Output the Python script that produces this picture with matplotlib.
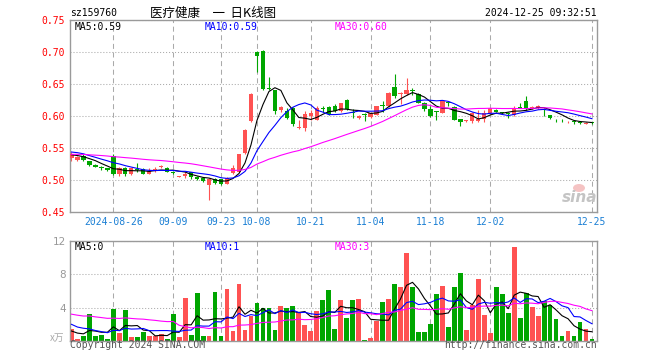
import numpy as np
import pandas as pd
import matplotlib
matplotlib.use("Agg")
import matplotlib.pyplot as plt
from matplotlib.patches import Ellipse

plt.rcParams["font.family"] = ["DejaVu Sans Mono"]
plt.rcParams["lines.scale_dashes"] = False

# trading days, 2024-08-15 .. 2024-12-25 (mid-autumn + national day closed)
HOLIDAYS = ["2024-09-16", "2024-09-17", "2024-10-01", "2024-10-02", "2024-10-03",
            "2024-10-04", "2024-10-07"]
DATES = [d for d in pd.bdate_range("2024-08-15", "2024-12-25")
         if d.strftime("%Y-%m-%d") not in HOLIDAYS]

OPEN = [0.535, 0.531, 0.538, 0.529, 0.524, 0.521, 0.518, 0.538, 0.509, 0.519,
        0.509, 0.517, 0.517, 0.510, 0.515, 0.520, 0.518, 0.513, 0.505, 0.506,
        0.512, 0.505, 0.503, 0.492, 0.502, 0.501, 0.494, 0.511, 0.513, 0.542,
        0.592, 0.700, 0.702, 0.643, 0.640, 0.609, 0.608, 0.613, 0.581, 0.581,
        0.600, 0.594, 0.612, 0.614, 0.616, 0.608, 0.625, 0.607, 0.597, 0.603,
        0.599, 0.602, 0.617, 0.615, 0.646, 0.634, 0.635, 0.640, 0.635, 0.621,
        0.611, 0.607, 0.605, 0.621, 0.614, 0.595, 0.592, 0.592, 0.592, 0.595,
        0.605, 0.610, 0.606, 0.604, 0.602, 0.614, 0.623, 0.613, 0.612, 0.611,
        0.601, 0.594, 0.594, 0.590, 0.592, 0.590, 0.588, 0.590]
HIGH = [0.544, 0.537, 0.540, 0.530, 0.525, 0.522, 0.519, 0.540, 0.520, 0.520,
        0.519, 0.526, 0.518, 0.519, 0.520, 0.524, 0.520, 0.514, 0.507, 0.512,
        0.513, 0.506, 0.505, 0.503, 0.503, 0.502, 0.505, 0.524, 0.541, 0.579,
        0.636, 0.702, 0.703, 0.661, 0.641, 0.616, 0.613, 0.614, 0.593, 0.608,
        0.610, 0.615, 0.615, 0.615, 0.618, 0.621, 0.626, 0.611, 0.601, 0.604,
        0.606, 0.616, 0.623, 0.637, 0.665, 0.637, 0.659, 0.644, 0.636, 0.622,
        0.615, 0.608, 0.624, 0.624, 0.615, 0.596, 0.594, 0.606, 0.610, 0.610,
        0.613, 0.611, 0.607, 0.606, 0.615, 0.621, 0.631, 0.615, 0.617, 0.612,
        0.602, 0.596, 0.595, 0.592, 0.593, 0.591, 0.590, 0.591]
LOW = [0.529, 0.529, 0.530, 0.522, 0.520, 0.516, 0.514, 0.508, 0.507, 0.506,
       0.508, 0.513, 0.509, 0.509, 0.513, 0.519, 0.512, 0.509, 0.504, 0.503,
       0.502, 0.500, 0.497, 0.469, 0.494, 0.492, 0.493, 0.510, 0.512, 0.541,
       0.590, 0.669, 0.640, 0.640, 0.603, 0.606, 0.595, 0.585, 0.580, 0.577,
       0.594, 0.593, 0.606, 0.601, 0.607, 0.606, 0.610, 0.597, 0.596, 0.592,
       0.597, 0.601, 0.607, 0.614, 0.628, 0.618, 0.633, 0.633, 0.620, 0.608,
       0.598, 0.594, 0.604, 0.615, 0.593, 0.584, 0.591, 0.589, 0.590, 0.590,
       0.604, 0.606, 0.603, 0.597, 0.600, 0.612, 0.610, 0.611, 0.611, 0.600,
       0.595, 0.590, 0.590, 0.589, 0.588, 0.587, 0.587, 0.588]
CLOSE = [0.540, 0.536, 0.531, 0.523, 0.521, 0.518, 0.516, 0.510, 0.519, 0.510,
         0.518, 0.515, 0.510, 0.514, 0.517, 0.522, 0.513, 0.511, 0.506, 0.510,
         0.504, 0.501, 0.499, 0.501, 0.496, 0.494, 0.503, 0.518, 0.540, 0.578,
         0.635, 0.694, 0.642, 0.642, 0.608, 0.614, 0.597, 0.587, 0.582, 0.603,
         0.604, 0.613, 0.611, 0.603, 0.608, 0.620, 0.611, 0.604, 0.600, 0.601,
         0.604, 0.615, 0.616, 0.636, 0.631, 0.636, 0.641, 0.639, 0.621, 0.611,
         0.600, 0.606, 0.623, 0.620, 0.594, 0.591, 0.593, 0.604, 0.595, 0.604,
         0.612, 0.607, 0.604, 0.603, 0.612, 0.613, 0.612, 0.614, 0.616, 0.610,
         0.597, 0.593, 0.593, 0.591, 0.591, 0.589, 0.589, 0.589]
# volume, in 万
VOLUME = [1.40, 0.24, 0.56, 3.20, 0.56, 0.68, 0.24, 3.80, 0.92, 3.68,
          0.44, 0.44, 1.08, 0.56, 0.56, 0.80, 0.24, 3.20, 0.44, 5.12,
          0.68, 5.72, 0.56, 0.56, 5.84, 0.56, 6.20, 1.16, 6.80, 1.32,
          2.96, 4.52, 4.00, 4.00, 1.32, 4.16, 4.00, 4.16, 3.48, 1.88,
          1.16, 3.60, 4.88, 6.08, 1.40, 4.88, 2.72, 4.88, 5.00, 0.10,
          0.32, 2.40, 4.64, 5.00, 6.80, 6.44, 10.52, 6.44, 1.04, 1.04,
          2.00, 5.60, 6.56, 1.64, 6.44, 8.12, 1.28, 4.28, 7.40, 3.08,
          0.92, 6.44, 5.60, 3.32, 11.24, 2.72, 5.72, 4.04, 2.96, 4.76,
          4.28, 2.60, 0.56, 1.16, 0.56, 2.24, 1.40, 0.20]

# sessions before the window (off chart), estimated from where the MA lines start
PRE_CLOSE = [0.536, 0.538, 0.540, 0.537, 0.535, 0.539, 0.541, 0.538, 0.536, 0.540,
             0.542, 0.539, 0.537, 0.536, 0.538, 0.540, 0.541, 0.539, 0.537, 0.538,
             0.546, 0.549, 0.551, 0.548, 0.546, 0.542, 0.540, 0.538, 0.537]
PRE_VOLUME = [4.0, 3.5, 3.0, 3.8, 3.2, 3.0, 3.2, 2.0, 1.5, 2.5,
              2.1, 2.0, 3.0, 2.5, 3.5, 2.0, 2.8, 14.0, 10.0, 5.0,
              3.5, 2.0, 4.0, 2.5, 2.0, 1.5, 1.0, 1.2, 0.9]

TICK_DAYS = ["2024-08-26", "2024-09-09", "2024-09-23", "2024-10-08", "2024-10-21",
             "2024-11-04", "2024-11-18", "2024-12-02", "2024-12-25"]
TICK_LABELS = ["2024-08-26", "09-09", "09-23", "10-08", "10-21",
               "11-04", "11-18", "12-02", "12-25"]
PRICE_TICKS = [0.45, 0.50, 0.55, 0.60, 0.65, 0.70, 0.75]
VOL_TICKS = [4, 8, 12]

UP, DOWN = "#ff5252", "#00a600"
GRID = "#aaaaaa"
W, H = 660, 360

day_str = [d.strftime("%Y-%m-%d") for d in DATES]
tick_pos = [day_str.index(d) for d in TICK_DAYS]
x = np.arange(len(CLOSE))
o, h, l, c = map(np.array, (OPEN, HIGH, LOW, CLOSE))
col = np.where(c >= o, UP, DOWN)

k = len(PRE_CLOSE)
close_all = pd.Series(PRE_CLOSE + CLOSE)
vol_all = pd.Series(PRE_VOLUME + VOLUME)
ma_cols = {5: "black", 10: "#0000ff", 30: "#ff00ff"}


def box(left, top, right, bottom):
    return [left / W, 1 - bottom / H, (right - left) / W, (bottom - top) / H]


def ftext(px, py, s, **kw):
    fig.text(px / W, 1 - py / H, s, **kw)


fig = plt.figure(figsize=(6.6, 3.6), dpi=100)
fig.patch.set_facecolor("white")
ax = fig.add_axes(box(70, 20, 597, 212))
axv = fig.add_axes(box(70, 241, 597, 341))

for a in (ax, axv):
    a.set_xlim(-0.25, 87.84)
    for s in a.spines.values():
        s.set_color("#9a9a9a")
        s.set_linewidth(1.0)
    a.tick_params(length=0)
    a.set_xticks(tick_pos)
    a.grid(axis="x", color=GRID, linestyle=(0, (3.6, 2.6)), linewidth=0.75)
    a.grid(axis="y", color=GRID, linestyle=(0, (0.75, 1.4)), linewidth=0.75)
    a.set_axisbelow(True)

# ---- price panel ----
ax.vlines(x, l, h, colors=col, linewidth=0.8, zorder=2)
body_h = np.maximum(np.abs(c - o), 0.0012)
ax.bar(x, body_h, bottom=np.minimum(o, c), width=0.72, color=col, linewidth=0, zorder=3)
for w, cc in ma_cols.items():
    ma = close_all.rolling(w, min_periods=1).mean().values[k:]
    ax.plot(x, ma, color=cc, linewidth=0.8, zorder=4)

ax.set_ylim(0.45, 0.75)
ax.set_yticks(PRICE_TICKS)
ax.set_yticklabels([f"{v:.2f}" for v in PRICE_TICKS], color="#ff0000", fontsize=7)
ax.set_xticklabels(TICK_LABELS, color="#1a7fd4", fontsize=7)
ax.tick_params(axis="y", pad=3.6)
ax.tick_params(axis="x", pad=3.5)

# ---- volume panel ----
axv.bar(x, VOLUME, width=0.8, color=col, linewidth=0, zorder=2)
for w, cc in ma_cols.items():
    ma = vol_all.rolling(w, min_periods=1).mean().values[k:]
    axv.plot(x, ma, color=cc, linewidth=0.8, zorder=3)
axv.set_ylim(0, 12)
axv.set_yticks(VOL_TICKS)
axv.set_yticklabels([str(v) for v in VOL_TICKS], color="#999999", fontsize=7.5,
                    family="DejaVu Sans")
axv.set_xticklabels([])
axv.tick_params(axis="y", pad=3)

# ---- texts ----
ftext(70, 13.5, "sz159760", fontsize=7, va="center")
ftext(150, 13, "医疗健康　一  日K线图", fontsize=9, va="center",
      family=["Noto Sans CJK SC", "DejaVu Sans"])
ftext(597, 13.5, "2024-12-25 09:32:51", fontsize=7, va="center", ha="right")

ftext(75, 26.5, "MA5:0.59", fontsize=7, va="center", color="black")
ftext(205, 26.5, "MA10:0.59", fontsize=7, va="center", color="#0000ff")
ftext(335, 26.5, "MA30:0.60", fontsize=7, va="center", color="#ff00ff")
ftext(75, 246.5, "MA5:0", fontsize=7, va="center", color="black")
ftext(205, 246.5, "MA10:1", fontsize=7, va="center", color="#0000ff")
ftext(335, 246.5, "MA30:3", fontsize=7, va="center", color="#ff00ff")

ftext(64, 338, "x万", fontsize=7, va="center", ha="right", color="#aaaaaa",
      family=["Noto Sans CJK SC", "DejaVu Sans"])
ftext(70, 345.5, "Copyright 2024 SINA.COM", fontsize=7, va="center", color="#555555")
ftext(597, 345.5, "http://finance.sina.com.cn", fontsize=7, va="center", ha="right",
      color="#555555")

# sina watermark
fig.patches.append(Ellipse((579 / W, 1 - 188 / H), 12 / W, 8 / H,
                           transform=fig.transFigure, facecolor="#f3b5b5",
                           edgecolor="none", alpha=0.8))
ftext(580, 197, "sina", fontsize=11, va="center", ha="center", color="#c4c4c4",
      weight="bold", style="italic", family="DejaVu Sans")

fig.savefig("out.png", dpi=100)
